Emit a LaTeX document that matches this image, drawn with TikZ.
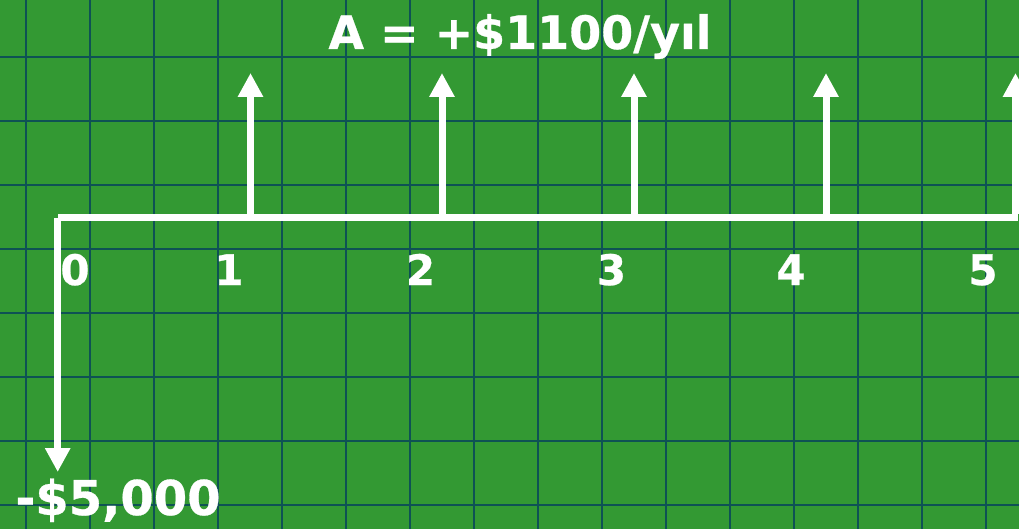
\documentclass[tikz,border=0pt]{standalone}
\usepackage{fontspec}
\setmainfont{DejaVu Sans}[BoldFeatures={FakeBold=0.6}]
\usetikzlibrary{arrows.meta}
\definecolor{bggreen}{RGB}{51,153,51}
\definecolor{gridteal}{RGB}{14,82,84}
\tikzset{
  gridline/.style={draw=gridteal, line width=2pt},
  axisline/.style={draw=white, line width=7pt},
  flowarrow/.style={draw=white, line width=7pt, -{Triangle[length=24pt,width=24pt]}},
  ticklabel/.style={text=white, inner sep=0pt, anchor=base, font=\bfseries\fontsize{42}{48}\selectfont},
  biglabel/.style={text=white, inner sep=0pt, anchor=base, font=\bfseries\fontsize{47}{54}\selectfont},
}
\begin{document}
\begin{tikzpicture}[x=1pt,y=-1pt]
\useasboundingbox (0,0) rectangle (1019,529);
\clip (0,0) rectangle (1019,529);
\fill[bggreen] (0,0) rectangle (1019,529);
% grid
\foreach \gx in {26,90,...,986} { \draw[gridline] (\gx,0) -- (\gx,529); }
\foreach \gy in {57,121,...,505} { \draw[gridline] (0,\gy) -- (1019,\gy); }
% axis
\coordinate (axL) at (58,217.5);
\coordinate (axR) at (1018,217.5);
\draw[axisline] (axL) -- (axR);
% down arrow
\coordinate (d0) at (57.7,218);
\coordinate (d0t) at (57.7,472);
\draw[flowarrow] (d0) -- (d0t);
% up arrows
\foreach \i/\ax in {1/250.5,2/442,3/634,4/826,5/1015.5} {
  \coordinate (u\i) at (\ax,214);
  \coordinate (u\i t) at (\ax,73);
  \draw[flowarrow] (u\i) -- (u\i t);
}
% tick labels
\node[ticklabel] (l0) at (75,285) {0};
\node[ticklabel] (l1) at (229,285) {1};
\node[ticklabel] (l2) at (420.5,285) {2};
\node[ticklabel] (l3) at (611.5,285) {3};
\node[ticklabel] (l4) at (791,285) {4};
\node[ticklabel] (l5) at (983,285) {5};
% labels
\node[biglabel, font=\bfseries\fontsize{46}{52}\selectfont] (title) at (520,49) {A = +\$1100/yıl};
\node[biglabel, font=\bfseries\fontsize{48}{54}\selectfont] (pv) at (118,515) {-\$5,000};
\end{tikzpicture}
\end{document}
